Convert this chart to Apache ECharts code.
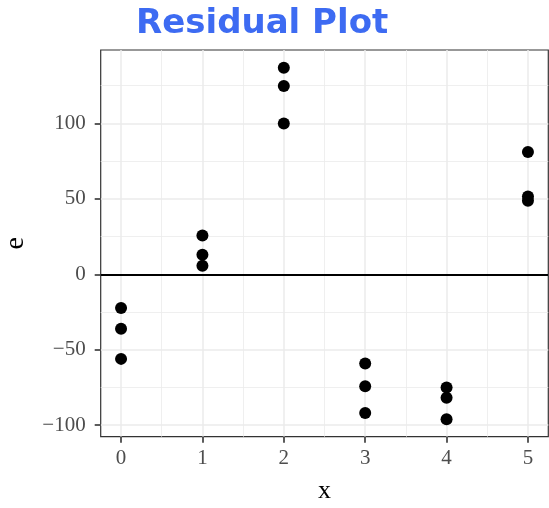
<!DOCTYPE html>
<html>
<head>
<meta charset="utf-8">
<script src="https://cdn.jsdelivr.net/npm/echarts@6/dist/echarts.min.js"></script>
<style>
html,body{margin:0;padding:0;background:#fff;}
#chart{width:549px;height:508px;}
</style>
</head>
<body>
<div id="chart"></div>
<script>
// Data
const xValues = [0,0,0, 1,1,1, 2,2,2, 3,3,3, 4,4,4, 5,5,5];
const residuals = [-22.4,-36.2,-56.1, 25.7,12.9,5.6, 137.0,124.9,100.0, -59.2,-74.2,-92.0, -75.1,-81.9,-96.2, 81.0,51.5,48.8];
const xTicks = [0,1,2,3,4,5];
const xMinorTicks = [0.5,1.5,2.5,3.5,4.5];
const yTicks = [-100,-50,0,50,100];
const yMinorTicks = [-75,-25,25,75,125];
const xRange = [-0.25, 5.25];
const yRange = [-107.7, 148.7];
const titleText = 'Residual Plot';
const xName = 'x';
const yName = 'e';

const points = xValues.map((x, i) => [x, residuals[i]]);
const fmt = v => String(v).replace('-', '\u2212');

const serif = '"Liberation Serif", "DejaVu Serif", serif';
const chart = echarts.init(document.getElementById('chart'), null, {renderer: 'canvas'});

const majorGrid = {show: true, lineStyle: {color: '#EBEBEB', width: 1.5}};
const minorGrid = {show: true, lineStyle: {color: '#EBEBEB', width: 0.8}};

chart.setOption({
  animation: false,
  backgroundColor: '#ffffff',
  title: {
    text: titleText,
    left: 131, top: 2,
    textStyle: {color: '#3D6BF2', fontSize: 34, fontWeight: 'bold', fontFamily: '"DejaVu Sans", sans-serif'}
  },
  grid: {left: 100.7, right: 0.7, top: 50, bottom: 71.3, show: true, borderColor: '#333333', borderWidth: 1.2, backgroundColor: '#ffffff', containLabel: false, outerBoundsMode: 'none'},
  xAxis: [
    {
      type: 'value', min: xRange[0], max: xRange[1],
      name: xName, nameLocation: 'middle', nameGap: 41,
      nameTextStyle: {color: '#000', fontSize: 26, fontFamily: serif},
      axisLine: {show: false, onZero: false},
      axisTick: {show: true, length: 6, customValues: xTicks, lineStyle: {color: '#333333', width: 1.6}},
      axisLabel: {show: true, customValues: xTicks, margin: 11, formatter: fmt, color: '#4D4D4D', fontSize: 21, fontFamily: serif},
      splitLine: majorGrid, z: 1
    },
    {
      type: 'value', min: xRange[0], max: xRange[1], gridIndex: 0, position: 'bottom',
      axisLine: {show: false, onZero: false},
      axisTick: {show: false, customValues: xMinorTicks},
      axisLabel: {show: false, customValues: xMinorTicks},
      splitLine: minorGrid, z: 0
    }
  ],
  yAxis: [
    {
      type: 'value', min: yRange[0], max: yRange[1],
      name: yName, nameLocation: 'middle', nameGap: 71, nameRotate: 90,
      nameTextStyle: {color: '#000', fontSize: 28, fontFamily: serif},
      axisLine: {show: false, onZero: false},
      axisTick: {show: true, length: 6, customValues: yTicks, lineStyle: {color: '#333333', width: 1.6}},
      axisLabel: {show: true, customValues: yTicks, margin: 15, formatter: fmt, color: '#4D4D4D', fontSize: 21, fontFamily: serif},
      splitLine: majorGrid, z: 1
    },
    {
      type: 'value', min: yRange[0], max: yRange[1], gridIndex: 0, position: 'left',
      axisLine: {show: false, onZero: false},
      axisTick: {show: false, customValues: yMinorTicks},
      axisLabel: {show: false, customValues: yMinorTicks},
      splitLine: minorGrid, z: 0
    }
  ],
  series: [
    {
      type: 'scatter', xAxisIndex: 0, yAxisIndex: 0,
      data: points, symbolSize: 12,
      itemStyle: {color: '#000000', opacity: 1},
      z: 5,
      markLine: {
        silent: true, symbol: 'none', label: {show: false},
        lineStyle: {color: '#000000', width: 2, type: 'solid'},
        data: [{yAxis: 0}],
        z: 4
      }
    }
  ]
});
</script>
</body>
</html>
